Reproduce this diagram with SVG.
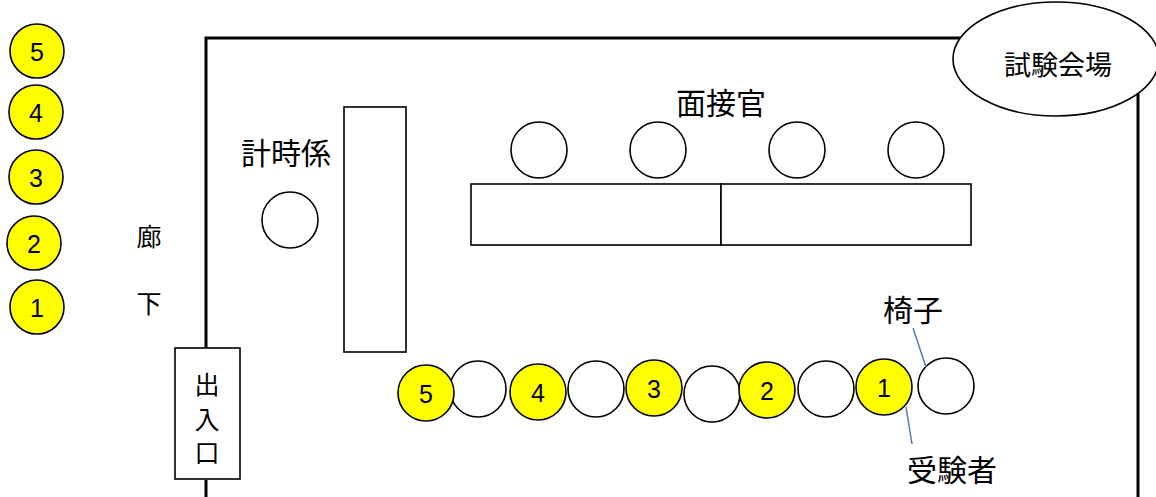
<svg xmlns="http://www.w3.org/2000/svg" width="1156" height="497" viewBox="0 0 1156 497">
<style>
.wall{fill:none;stroke:#000;stroke-width:3}
.sh{fill:#fff;stroke:#000;stroke-width:1.6}
.y{fill:#ffff00;stroke:#000;stroke-width:1.6}
.t{font-family:"Noto Sans CJK JP","Noto Sans CJK SC",sans-serif;fill:#000}
.n{font-family:"Liberation Sans",Arial,sans-serif;font-size:25px;fill:#000;text-anchor:middle}
.lead{stroke:#4a7ebb;stroke-width:1.5;fill:none}
</style>
<rect width="1156" height="497" fill="#fff"/>
<g id="room">
<path class="wall" d="M206,497 V480 M206,348 V38 H1138 V497"/>
</g>
<g id="venue-label">
<ellipse class="sh" cx="1056" cy="59" rx="103" ry="57"/>
<text class="t" x="1058" y="75" font-size="27" text-anchor="middle">試験会場</text>
</g>
<g id="door">
<rect class="sh" x="175" y="348" width="65" height="131"/>
<text class="t" x="207" y="394" font-size="25" text-anchor="middle">出</text>
<text class="t" x="207" y="429" font-size="25" text-anchor="middle">入</text>
<text class="t" x="207" y="462" font-size="25" text-anchor="middle">口</text>
</g>
<g id="corridor">
<text class="t" x="149" y="246" font-size="25" text-anchor="middle">廊</text>
<text class="t" x="149" y="313" font-size="25" text-anchor="middle">下</text>
</g>
<g id="waiting">
<circle class="y" cx="37" cy="51" r="27"/><text class="n" x="37" y="61">5</text>
<circle class="y" cx="36" cy="112" r="27"/><text class="n" x="36" y="122">4</text>
<circle class="y" cx="36" cy="177" r="27"/><text class="n" x="36" y="187">3</text>
<circle class="y" cx="34" cy="243" r="27"/><text class="n" x="34" y="253">2</text>
<circle class="y" cx="37" cy="307" r="27"/><text class="n" x="37" y="317">1</text>
</g>
<g id="timekeeper">
<text class="t" x="286" y="164" font-size="30" text-anchor="middle">計時係</text>
<circle class="sh" cx="290" cy="220" r="28"/>
<rect class="sh" x="344" y="107" width="62" height="245"/>
</g>
<g id="interviewers">
<text class="t" x="721" y="114" font-size="30" text-anchor="middle">面接官</text>
<circle class="sh" cx="539" cy="150" r="28"/>
<circle class="sh" cx="658" cy="150" r="28"/>
<circle class="sh" cx="797" cy="150" r="28"/>
<circle class="sh" cx="916" cy="150" r="28"/>
<rect class="sh" x="471" y="184" width="250" height="61"/>
<rect class="sh" x="721" y="184" width="250" height="61"/>
</g>
<g id="seats">
<circle class="sh" cx="478" cy="389" r="28"/>
<circle class="sh" cx="596" cy="389" r="28"/>
<circle class="sh" cx="712" cy="394" r="28"/>
<circle class="sh" cx="826" cy="389" r="28"/>
<circle class="sh" cx="946" cy="386" r="28"/>
</g>
<g id="candidates">
<circle class="y" cx="426" cy="393" r="28"/><text class="n" x="426" y="403">5</text>
<circle class="y" cx="538" cy="392" r="28"/><text class="n" x="538" y="402">4</text>
<circle class="y" cx="654" cy="388" r="28"/><text class="n" x="654" y="398">3</text>
<circle class="y" cx="767" cy="390" r="28"/><text class="n" x="767" y="400">2</text>
<circle class="y" cx="884" cy="387" r="28"/><text class="n" x="884" y="397">1</text>
</g>
<g id="connectors">
<line class="lead" x1="913" y1="328" x2="926" y2="367"/>
<line class="lead" x1="906" y1="407" x2="912" y2="444"/>
</g>
<g id="labels">
<text class="t" x="913" y="321" font-size="30" text-anchor="middle">椅子</text>
<text class="t" x="952" y="481" font-size="30" text-anchor="middle">受験者</text>
</g>
</svg>
